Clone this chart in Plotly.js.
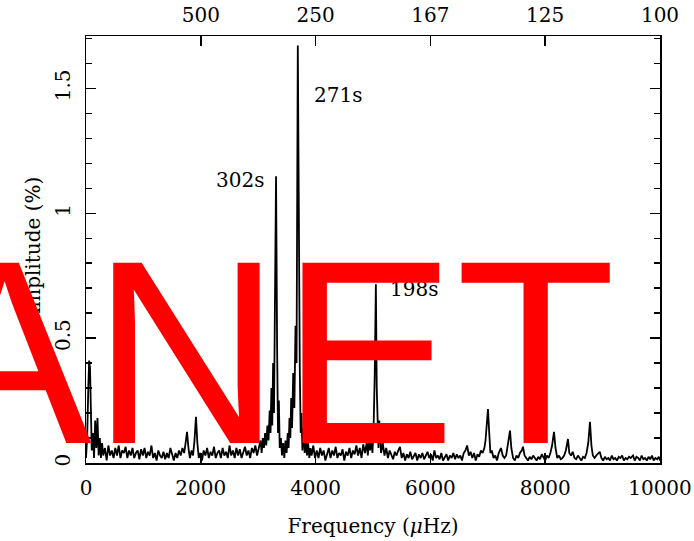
<!DOCTYPE html>
<html>
<head>
<meta charset="utf-8">
<script src="https://cdn.plot.ly/plotly-3.0.1.min.js"></script>
<style>
  html, body { margin: 0; padding: 0; background: #fff; }
  #chart { width: 694px; height: 541px; }
</style>
</head>
<body>
<div id="chart"></div>
<script>
// Amplitude spectrum: frequency in microhertz, amplitude in percent
const freq = [
  0, 20, 40, 55, 70, 85, 100, 120, 140, 160, 180, 200, 220, 240, 260, 280,
  300, 330, 360, 390, 420, 450, 480, 510, 540, 570, 600, 630, 660, 690, 720, 750, 780, 810, 840, 870, 900, 930, 960, 990,
  1020, 1050, 1080, 1110, 1140, 1170, 1200, 1230, 1260, 1290, 1320, 1350, 1380, 1410, 1440, 1470, 1500, 1530, 1560, 1590, 1620, 1650, 1680,
  1710, 1735, 1760, 1785, 1810, 1840, 1865, 1890, 1916, 1940, 1965, 1990,
  2020, 2050, 2080, 2110, 2140, 2170, 2200, 2230, 2260, 2290, 2320, 2350, 2380, 2410, 2440, 2470, 2500, 2530, 2560, 2590, 2620, 2650, 2680, 2710, 2740, 2770, 2800, 2830, 2860, 2890, 2920, 2950, 2980,
  3010, 3040, 3060, 3080, 3100, 3120, 3140, 3160, 3180, 3200, 3215, 3230, 3245, 3260, 3275, 3290, 3311, 3330, 3345, 3360, 3375, 3395, 3415, 3435, 3455, 3475, 3495, 3515, 3530, 3545, 3560, 3575, 3590, 3610, 3630, 3650, 3668, 3690, 3710, 3725, 3740, 3755, 3770, 3790, 3810, 3830, 3850, 3870, 3890, 3910, 3930, 3960, 3990,
  4020, 4050, 4080, 4110, 4140, 4170, 4200, 4230, 4260, 4290, 4320, 4350, 4380, 4410, 4440, 4470, 4500, 4530, 4560, 4590, 4620, 4650, 4680, 4710, 4740, 4770, 4800, 4830, 4860, 4890, 4910, 4930, 4950, 4970, 4990,
  5010, 5030, 5050, 5065, 5080, 5095, 5110, 5125, 5140, 5170, 5200, 5230, 5260, 5290, 5320, 5350, 5380, 5410, 5440, 5470, 5500, 5530, 5560, 5590, 5620, 5650, 5680, 5710, 5740, 5770, 5800, 5830, 5860, 5890, 5920, 5950, 5980,
  6010, 6040, 6070, 6100, 6130, 6160, 6190, 6220, 6250, 6280, 6310, 6340, 6370, 6400, 6430, 6460, 6490, 6520, 6550, 6580, 6610, 6640, 6670, 6700, 6730, 6760, 6790, 6820, 6850, 6880, 6910, 6940, 6960, 6985,
  7003, 7025, 7045, 7070, 7100, 7130, 7160, 7190, 7230, 7260, 7290, 7320, 7350, 7387, 7410, 7440, 7470, 7500, 7530, 7560, 7590, 7613, 7640, 7670, 7700, 7730, 7760, 7790, 7820, 7850, 7880, 7910, 7940, 7970,
  8000, 8030, 8060, 8090, 8120, 8153, 8180, 8210, 8240, 8270, 8300, 8330, 8360, 8397, 8420, 8450, 8480, 8510, 8540, 8570, 8600, 8630, 8660, 8690, 8720, 8750, 8780, 8805, 8830, 8860, 8890, 8920, 8950, 8980,
  9010, 9040, 9070, 9100, 9130, 9160, 9190, 9220, 9250, 9280, 9310, 9340, 9370, 9400, 9430, 9460, 9490, 9530, 9560, 9590, 9620, 9650, 9680, 9710, 9740, 9770, 9800, 9830, 9860, 9890, 9920, 9950, 9980, 10000
];
const amplitude = [
  0.02, 0.10, 0.30, 0.41, 0.38, 0.15, 0.05, 0.12, 0.02, 0.17, 0.06, 0.18, 0.03, 0.10, 0.02, 0.08,
  0.03, 0.06, 0.01, 0.07, 0.03, 0.05, 0.02, 0.06, 0.03, 0.07, 0.02, 0.05, 0.04, 0.065, 0.02, 0.05, 0.03, 0.06, 0.02, 0.04, 0.05, 0.015, 0.055, 0.03,
  0.06, 0.02, 0.045, 0.03, 0.07, 0.02, 0.04, 0.01, 0.05, 0.03, 0.02, 0.045, 0.015, 0.04, 0.02, 0.06, 0.03, 0.01, 0.04, 0.02, 0.05, 0.03, 0.06,
  0.04, 0.08, 0.125, 0.06, 0.02, 0.05, 0.03, 0.09, 0.185, 0.08, 0.02, 0.04,
  0.01, 0.05, 0.03, 0.06, 0.02, 0.045, 0.03, 0.065, 0.02, 0.04, 0.05, 0.02, 0.06, 0.03, 0.045, 0.02, 0.07, 0.03, 0.05, 0.02, 0.06, 0.03, 0.055, 0.02, 0.045, 0.065, 0.03, 0.05, 0.02, 0.06, 0.04, 0.07, 0.03,
  0.06, 0.09, 0.04, 0.10, 0.06, 0.12, 0.07, 0.15, 0.09, 0.21, 0.12, 0.30, 0.15, 0.40, 0.20, 0.55, 1.148, 0.45, 0.12, 0.25, 0.06, 0.10, 0.03, 0.08, 0.02, 0.09, 0.04, 0.12, 0.06, 0.18, 0.10, 0.26, 0.14, 0.36, 0.22, 0.55, 0.40, 1.672, 0.50, 0.36, 0.12, 0.20, 0.05, 0.14, 0.04, 0.09, 0.03, 0.08, 0.02, 0.06, 0.03, 0.07, 0.02,
  0.05, 0.02, 0.06, 0.03, 0.05, 0.01, 0.04, 0.06, 0.02, 0.05, 0.03, 0.065, 0.02, 0.04, 0.03, 0.055, 0.01, 0.045, 0.03, 0.06, 0.02, 0.05, 0.035, 0.07, 0.03, 0.06, 0.02, 0.075, 0.04, 0.08, 0.03, 0.09, 0.05, 0.10, 0.04,
  0.14, 0.35, 0.716, 0.30, 0.10, 0.06, 0.17, 0.07, 0.04, 0.08, 0.03, 0.06, 0.02, 0.05, 0.03, 0.015, 0.045, 0.03, 0.05, 0.065, 0.02, 0.04, 0.01, 0.035, 0.02, 0.045, 0.015, 0.03, 0.04, 0.01, 0.035, 0.02, 0.04, 0.015, 0.03, 0.045, 0.02,
  0.035, 0.01, 0.05, 0.02, 0.03, 0.015, 0.04, 0.01, 0.025, 0.035, 0.01, 0.03, 0.02, 0.04, 0.015, 0.035, 0.02, 0.03, 0.01, 0.04, 0.05, 0.07, 0.03, 0.045, 0.02, 0.04, 0.01, 0.035, 0.025, 0.05, 0.04, 0.06, 0.09, 0.16,
  0.216, 0.12, 0.04, 0.05, 0.02, 0.03, 0.01, 0.04, 0.06, 0.03, 0.02, 0.03, 0.07, 0.13, 0.06, 0.02, 0.01, 0.03, 0.02, 0.04, 0.05, 0.065, 0.03, 0.02, 0.01, 0.025, 0.015, 0.03, 0.02, 0.01, 0.025, 0.015, 0.035, 0.02,
  0.01, 0.03, 0.02, 0.04, 0.07, 0.125, 0.06, 0.02, 0.03, 0.015, 0.02, 0.03, 0.05, 0.096, 0.04, 0.03, 0.045, 0.02, 0.015, 0.03, 0.02, 0.01, 0.025, 0.02, 0.04, 0.08, 0.165, 0.07, 0.03, 0.02, 0.03, 0.04, 0.045, 0.02,
  0.01, 0.025, 0.015, 0.02, 0.01, 0.03, 0.015, 0.02, 0.01, 0.025, 0.02, 0.03, 0.01, 0.02, 0.015, 0.025, 0.02, 0.03, 0.01, 0.025, 0.02, 0.01, 0.03, 0.015, 0.02, 0.01, 0.025, 0.015, 0.03, 0.01, 0.02, 0.015, 0.025, 0.01
];

// Bottom axis ticks (frequency) and top axis labels (period in seconds)
const freqTicks = [0, 2000, 4000, 6000, 8000, 10000];
const periodTickFreqs = [2000, 4000, 6000, 8000, 10000];
const periodLabels = ['500', '250', '167', '125', '100'];
const ampTicks = [0, 0.5, 1, 1.5];
const ampTickLabels = ['0', '0.5', '1', '1.5'];

// Labelled modes: period label and the peak it names
const peakLabels = ['302s', '271s', '198s'];
const peakFreqs = [3311, 3690, 5050];
const peakAmps = [1.148, 1.672, 0.716];

const serif = 'DejaVu Serif, serif';
const ink = '#000';

const spectrum = {
  type: 'scatter', mode: 'lines',
  x: freq, y: amplitude,
  line: { color: ink, width: 1.8 },
  hoverinfo: 'skip', showlegend: false
};
// empty trace so the period axis on top gets its own subplot
const periodAxisHolder = {
  type: 'scatter', mode: 'lines', x: [null], y: [null],
  xaxis: 'x2', yaxis: 'y', hoverinfo: 'skip', showlegend: false
};

const labelAnn = [
  { x: peakFreqs[0] - 175, y: peakAmps[0] - 0.015, text: peakLabels[0], xanchor: 'right', yanchor: 'middle' },
  { x: peakFreqs[1] + 245, y: peakAmps[1] - 0.2, text: peakLabels[1], xanchor: 'left', yanchor: 'middle' },
  { x: peakFreqs[2] + 210, y: peakAmps[2] - 0.02, text: peakLabels[2], xanchor: 'left', yanchor: 'middle' }
].map(a => Object.assign({ xref: 'x', yref: 'y', showarrow: false,
  font: { family: serif, size: 20, color: ink } }, a));

const stamp = {
  xref: 'paper', yref: 'paper', x: 0.314, y: 0.259,
  xanchor: 'center', yanchor: 'middle', showarrow: false,
  text: 'ANET',
  font: { family: 'Liberation Sans, Arial, sans-serif', size: 262, color: '#ff0000' }
};

const axisCommon = {
  showgrid: false, zeroline: false, showline: true,
  linecolor: ink, linewidth: 1.5,
  ticks: 'inside', ticklen: 10, tickwidth: 1.5, tickcolor: ink,
  tickfont: { family: serif, size: 20, color: ink }
};

const layout = {
  width: 694, height: 541,
  margin: { l: 86, r: 34, t: 36, b: 78, pad: 0 },
  paper_bgcolor: '#fff', plot_bgcolor: '#fff',
  font: { family: serif, size: 20, color: ink },
  showlegend: false,
  xaxis: Object.assign({}, axisCommon, {
    range: [0, 10000], tickmode: 'array', tickvals: freqTicks,
    ticktext: freqTicks.map(String), mirror: false,
    ticklabelstandoff: 6,
    title: { text: 'Frequency (<i>μ</i>Hz)', font: { family: serif, size: 20, color: ink }, standoff: 20 }
  }),
  xaxis2: Object.assign({}, axisCommon, {
    range: [0, 10000], overlaying: 'x', side: 'top', anchor: 'y',
    tickmode: 'array', tickvals: periodTickFreqs, ticktext: periodLabels,
    ticklabelstandoff: 5
  }),
  yaxis: Object.assign({}, axisCommon, {
    range: [0, 1.71], tickmode: 'array', tickvals: ampTicks, ticktext: ampTickLabels,
    tickangle: -90, mirror: 'ticks', ticklabelstandoff: 7,
    minor: { tickmode: 'linear', tick0: 0, dtick: 0.1, ticks: 'inside', ticklen: 6, tickwidth: 1.5, tickcolor: ink },
    title: { text: 'Amplitude (%)', font: { family: serif, size: 20, color: ink }, standoff: 4 }
  }),
  annotations: labelAnn.concat([stamp])
};

Plotly.newPlot('chart', [spectrum, periodAxisHolder], layout, { displayModeBar: false, staticPlot: true });
</script>
</body>
</html>
